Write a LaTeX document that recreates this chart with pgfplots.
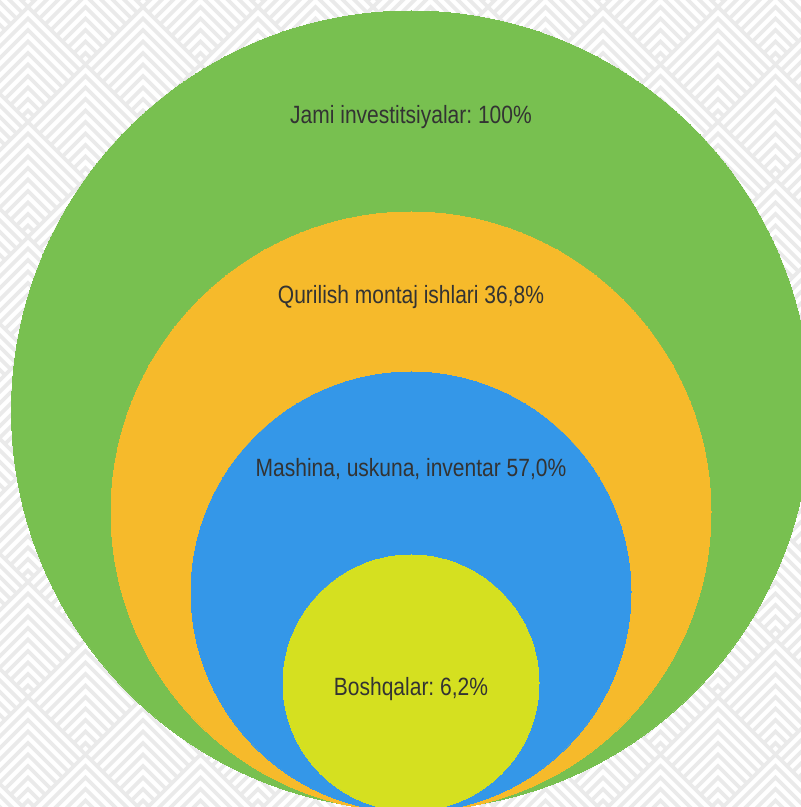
\documentclass[border=0pt]{standalone}
\usepackage{pgfplots}
\pgfplotsset{compat=1.18}
\usepackage{fontspec}
\setmainfont{Liberation Sans}[FakeStretch=0.84]
\frenchspacing
\definecolor{cgreen}{HTML}{78C050}
\definecolor{corange}{HTML}{F6BA2B}
\definecolor{cblue}{HTML}{3497E8}
\definecolor{cyellow}{HTML}{D5E020}
\definecolor{ctext}{HTML}{333333}
\definecolor{cstripe}{HTML}{EAEAEA}
\begin{document}
\begin{tikzpicture}[x=1pt,y=1pt]
\useasboundingbox (0,0) rectangle (801,807);
\clip (0,0) rectangle (801,807);
\fill[white] (0,0) rectangle (801,807);
% background chevron pattern
\foreach \j in {-2,...,15}{
  \foreach \i in {-1,...,7}{
    \pgfmathsetmacro{\px}{28+57.5*mod(\j+4,2)+115*\i}
    \pgfmathsetmacro{\py}{807-(5+57.5*\j)}
    \foreach \k in {0,...,9}{
      \pgfmathsetmacro{\a}{\k*11.5+2}
      \pgfmathsetmacro{\dx}{(115-\a)/2}
      \pgfmathsetmacro{\dy}{(\a+115)/2}
      \draw[cstripe,line width=3.6pt,line cap=butt]
        (\px-\dx,\py-\dy) -- (\px,\py-\a) -- (\px+\dx,\py-\dy);
    }
  }
}
\begin{axis}[
  at={(0,0)}, anchor=south west,
  width=801pt, height=807pt, scale only axis,
  xmin=0, xmax=801, ymin=0, ymax=807,
  axis lines=none, clip=false,
]
% circles: centre x, centre y (from bottom), radius in pt
\addplot[only marks, mark=*, mark size=399.5, draw=cgreen, fill=cgreen, mark options={line width=0pt, draw=cgreen, fill=cgreen}]
  coordinates {(411,396.5)};
\addplot[only marks, mark=*, mark size=300, draw=corange, fill=corange, mark options={line width=0pt, draw=corange, fill=corange}]
  coordinates {(411,295)};
\addplot[only marks, mark=*, mark size=220, draw=cblue, fill=cblue, mark options={line width=0pt, draw=cblue, fill=cblue}]
  coordinates {(411,215)};
\addplot[only marks, mark=*, mark size=128, draw=cyellow, fill=cyellow, mark options={line width=0pt, draw=cyellow, fill=cyellow}]
  coordinates {(411,124)};
\end{axis}
\begin{scope}[every node/.style={anchor=base, text=ctext, font=\fontsize{25}{30}\selectfont, inner sep=0pt}]
\node at (411,683) {Jami investitsiyalar: 100\%};
\node at (411,503) {Qurilish montaj ishlari 36,8\%};
\node at (411,330.5) {Mashina, uskuna, inventar 57,0\%};
\node at (411,111) {Boshqalar: 6,2\%};
\end{scope}
\end{tikzpicture}
\end{document}
